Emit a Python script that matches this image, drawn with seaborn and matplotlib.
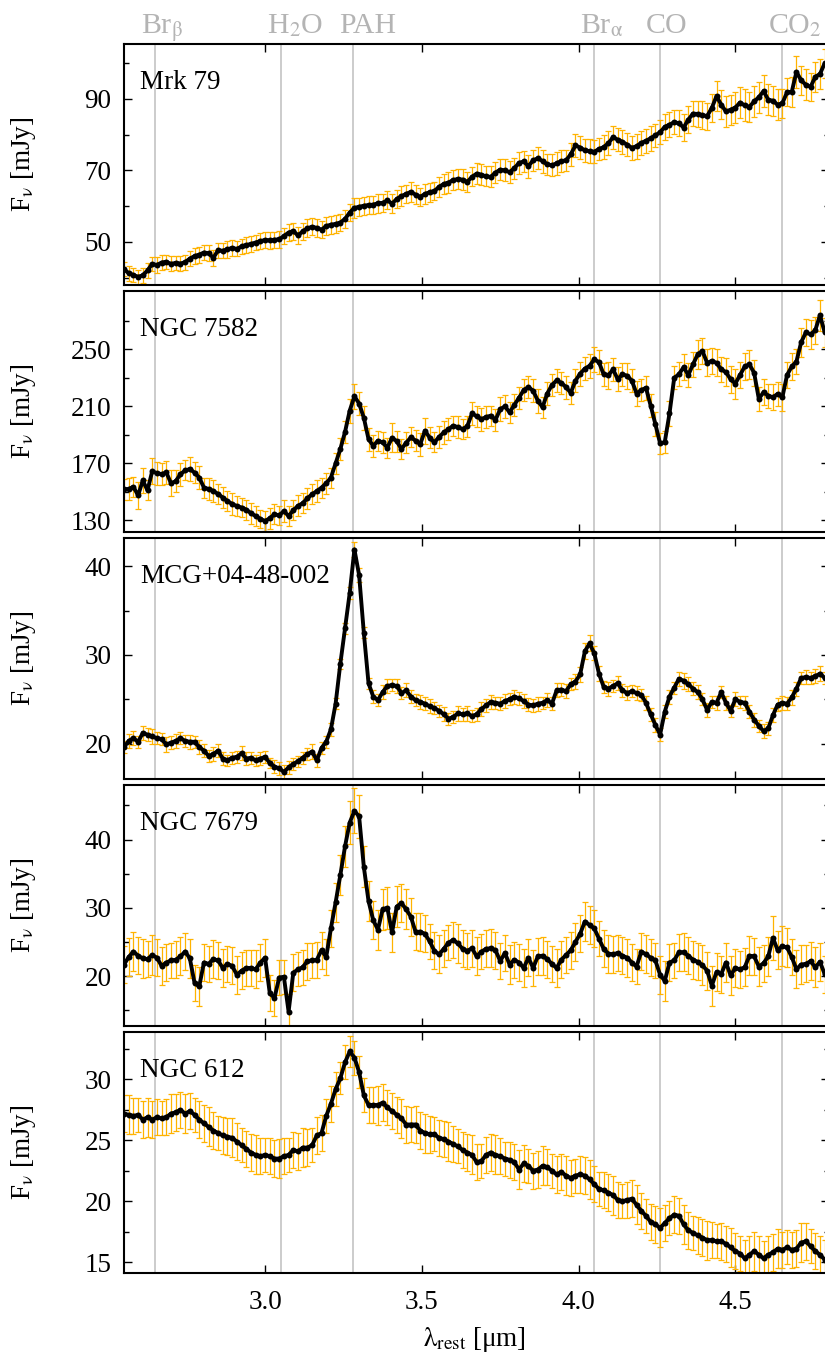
import numpy as np
import pandas as pd
import matplotlib
matplotlib.use("Agg")
import matplotlib.pyplot as plt
from matplotlib.ticker import FixedLocator, FuncFormatter
import seaborn as sns

# ---------------- data ----------------
# common rest-frame wavelength sampling (µm)
wave_start, wave_step, n_wave = 2.55, 0.015, 150
wavelength = np.round(wave_start + wave_step * np.arange(n_wave), 4)

galaxies = ["Mrk 79", "NGC 7582", "MCG+04-48-002", "NGC 7679", "NGC 612"]

flux_mrk79 = [
    42.3, 41.2, 40.7, 40.2, 40.6, 42.0, 43.8, 43.5, 44.2, 44.4,
    43.8, 44.1, 43.9, 44.3, 45.3, 46.0, 46.4, 47.0, 46.8, 45.5,
    47.6, 47.5, 47.9, 48.3, 48.0, 48.7, 49.1, 49.4, 49.8, 50.2,
    50.5, 50.4, 50.6, 50.7, 51.6, 52.6, 53.0, 51.8, 52.9, 53.8,
    54.2, 53.9, 53.4, 54.4, 54.8, 55.0, 55.4, 56.4, 58.2, 59.5,
    59.8, 60.1, 60.3, 60.4, 60.8, 60.9, 61.6, 60.7, 62.0, 62.8,
    63.4, 64.0, 63.2, 62.6, 63.4, 63.9, 64.2, 65.4, 66.2, 66.6,
    67.3, 67.6, 67.4, 66.8, 68.2, 69.1, 68.8, 68.3, 68.2, 69.4,
    70.2, 70.0, 69.5, 70.6, 72.1, 72.5, 71.2, 72.8, 73.4, 72.6,
    71.7, 71.4, 72.0, 72.6, 72.8, 74.5, 77.0, 76.4, 75.6, 75.4,
    75.2, 76.0, 76.5, 77.6, 79.3, 78.6, 78.0, 77.2, 76.3, 76.8,
    77.7, 78.3, 79.0, 79.8, 80.7, 82.2, 82.8, 83.5, 83.2, 82.0,
    84.2, 85.9, 85.8, 85.5, 85.2, 87.5, 90.8, 88.4, 86.5, 87.0,
    87.6, 89.0, 88.2, 87.8, 89.3, 90.5, 92.2, 89.8, 89.5, 88.4,
    88.8, 91.9, 92.0, 97.6, 95.2, 94.0, 93.4, 96.2, 97.0, 100.0,
]
err_mrk79 = [
    2.0, 2.1, 1.9, 2.0, 2.2, 2.1, 2.0, 2.2, 2.1, 2.0, 2.1, 2.0, 2.2, 2.1, 2.0,
    2.3, 2.2, 2.1, 2.2, 2.3, 2.2, 2.1, 2.3, 2.2, 2.1, 2.2, 2.3, 2.2, 2.1, 2.3,
    2.2, 2.3, 2.2, 2.4, 2.3, 2.5, 2.4, 2.3, 2.4, 2.5, 2.4, 2.5, 2.4, 2.6, 2.5,
    2.4, 2.5, 2.6, 2.5, 2.7, 2.6, 2.5, 2.6, 2.5, 2.7, 2.6, 2.5, 2.7, 2.6, 2.7,
    2.6, 2.8, 2.7, 2.6, 2.8, 2.7, 2.6, 2.8, 2.7, 2.9, 2.8, 2.7, 2.9, 2.8, 2.7,
    2.9, 3.0, 2.8, 2.9, 3.0, 2.9, 3.1, 3.0, 2.9, 3.1, 3.0, 3.2, 3.0, 3.1, 3.2,
    3.0, 3.1, 3.2, 3.1, 3.0, 3.2, 3.3, 3.1, 3.2, 3.3, 3.2, 3.1, 3.3, 3.4, 3.2,
    3.3, 3.4, 3.2, 3.3, 3.5, 3.3, 3.4, 3.5, 3.3, 3.4, 3.6, 3.5, 3.4, 3.6, 3.7,
    3.8, 3.6, 3.7, 3.9, 3.8, 4.0, 4.2, 4.1, 4.3, 4.2, 4.4, 4.3, 4.5, 4.2, 4.4,
    4.3, 4.5, 4.4, 4.2, 4.3, 4.1, 4.0, 4.2, 4.4, 4.1, 4.3, 4.0, 4.2, 4.1, 4.0,
]

flux_ngc7582 = [
    151.8, 152.0, 153.5, 147.5, 158.0, 151.0, 164.5, 163.0, 162.5, 163.6,
    156.0, 157.5, 162.4, 165.0, 166.0, 163.5, 160.0, 153.0, 152.0, 150.6,
    148.5, 146.0, 143.5, 141.5, 140.0, 139.0, 137.5, 135.0, 133.0, 131.0,
    129.5, 131.5, 134.2, 133.5, 136.5, 133.0, 137.0, 140.2, 142.0, 145.5,
    148.3, 150.5, 153.0, 156.0, 160.0, 170.0, 180.0, 192.0, 207.0, 217.0,
    212.0, 202.0, 187.0, 182.3, 185.9, 184.7, 181.0, 188.0, 185.5, 180.0,
    184.5, 188.2, 186.0, 183.5, 192.9, 188.0, 184.7, 188.5, 191.7, 194.0,
    196.4, 195.5, 194.0, 196.0, 205.0, 203.0, 201.0, 202.5, 203.5, 200.5,
    208.0, 210.0, 205.8, 211.0, 216.0, 221.5, 223.5, 221.0, 214.0, 209.4,
    219.0, 225.0, 228.2, 226.5, 223.5, 219.5, 228.0, 233.0, 236.5, 238.5,
    243.0, 241.0, 232.5, 231.7, 236.0, 229.0, 232.5, 231.5, 228.0, 219.0,
    221.5, 223.0, 210.5, 197.5, 184.0, 185.0, 205.0, 230.0, 232.5, 237.5,
    232.0, 239.5, 246.5, 249.0, 240.5, 242.0, 240.5, 236.0, 234.0, 229.0,
    226.0, 232.0, 238.0, 239.5, 233.5, 215.2, 220.0, 217.5, 216.4, 218.8,
    216.4, 232.0, 238.0, 241.5, 255.0, 262.0, 260.5, 263.4, 274.0, 262.0,
]
err_ngc7582 = [
    7.5, 8.0, 7.0, 9.5, 8.5, 7.0, 9.0, 8.0, 7.5, 8.0, 9.0, 7.5, 8.0, 7.0, 8.5,
    7.5, 8.0, 7.0, 7.5, 8.0, 7.0, 7.5, 7.0, 7.5, 7.0, 6.5, 7.0, 7.5, 7.0, 6.5,
    7.0, 7.5, 7.0, 6.5, 7.5, 7.0, 7.0, 7.5, 7.0, 7.5, 7.0, 7.5, 7.0, 7.5, 7.0,
    7.5, 7.5, 8.0, 8.5, 9.0, 8.0, 8.5, 8.0, 7.5, 7.0, 7.5, 7.0, 10.0, 7.5, 7.0,
    7.5, 7.0, 7.5, 8.0, 9.0, 7.5, 7.0, 7.5, 8.0, 7.5, 7.0, 7.5, 7.0, 7.5, 8.0,
    7.5, 8.0, 7.5, 7.0, 8.0, 8.5, 8.0, 7.5, 8.0, 7.5, 8.0, 7.5, 8.0, 8.5, 7.5,
    8.0, 7.5, 8.0, 7.5, 8.0, 7.5, 8.0, 8.5, 8.0, 8.5, 9.0, 8.5, 8.0, 9.5, 8.0,
    8.5, 8.0, 9.0, 8.0, 8.5, 8.0, 8.5, 8.0, 8.5, 7.5, 8.0, 9.0, 8.0, 8.5, 9.0,
    8.5, 9.0, 10.0, 9.0, 9.5, 9.0, 9.5, 9.0, 10.0, 9.5, 10.5, 9.0, 9.5, 10.0, 9.0,
    8.5, 9.0, 8.5, 9.0, 8.5, 9.5, 9.0, 9.5, 9.0, 10.0, 9.5, 10.0, 9.5, 11.0, 10.0,
]

flux_mcg = [
    19.6, 20.3, 20.6, 20.2, 21.2, 21.0, 20.8, 20.6, 20.5, 19.9,
    20.1, 20.3, 20.6, 20.3, 20.2, 20.2, 19.6, 19.2, 18.6, 18.8,
    19.2, 18.3, 18.1, 18.4, 18.5, 18.9, 18.3, 18.4, 18.1, 18.3,
    18.5, 17.8, 17.4, 17.2, 16.8, 17.3, 17.7, 18.0, 18.4, 18.8,
    19.1, 18.1, 19.5, 20.2, 21.6, 24.5, 29.0, 33.0, 37.0, 41.9,
    39.0, 32.5, 26.8, 25.3, 24.9, 25.8, 26.5, 26.6, 26.5, 25.7,
    26.0, 25.3, 24.9, 24.7, 24.5, 24.2, 24.0, 23.7, 23.3, 22.8,
    23.0, 23.4, 23.3, 23.4, 23.1, 23.3, 23.9, 24.3, 24.7, 24.6,
    24.5, 24.8, 25.0, 25.3, 25.1, 24.8, 24.4, 24.3, 24.5, 24.6,
    24.9, 24.5, 26.0, 26.1, 25.9, 26.7, 27.0, 27.8, 30.4, 31.3,
    30.2, 27.9, 26.4, 26.2, 26.5, 26.8, 26.0, 25.7, 25.9, 25.7,
    25.5, 24.6, 23.3, 22.1, 21.0, 23.6, 25.3, 26.3, 27.3, 27.1,
    26.7, 26.2, 25.8, 25.0, 23.8, 24.7, 24.6, 25.8, 24.6, 23.7,
    25.0, 24.7, 24.6, 23.6, 22.7, 22.0, 21.4, 21.7, 23.2, 24.4,
    24.6, 24.5, 25.2, 26.2, 27.4, 27.5, 27.4, 27.6, 27.9, 27.4,
]
err_mcg = [
    0.7, 0.8, 0.8, 0.7, 0.8, 0.7, 0.8, 0.7, 0.7, 0.8, 0.7, 0.8, 0.7, 0.7, 0.8,
    0.7, 0.8, 0.7, 0.7, 0.8, 0.7, 0.7, 0.6, 0.7, 0.7, 0.8, 0.7, 0.7, 0.6, 0.7,
    0.7, 0.6, 0.7, 0.7, 0.8, 0.7, 0.7, 0.6, 0.7, 0.7, 0.8, 0.7, 0.7, 0.7, 0.7,
    0.6, 0.6, 0.6, 0.7, 0.9, 0.8, 0.6, 0.6, 0.7, 0.7, 0.8, 0.8, 0.7, 0.8, 0.7,
    0.8, 0.7, 0.7, 0.8, 0.7, 0.8, 0.7, 0.7, 0.8, 0.7, 0.7, 0.8, 0.7, 0.8, 0.7,
    0.7, 0.8, 0.7, 0.8, 0.7, 0.7, 0.8, 0.7, 0.8, 0.7, 0.8, 0.7, 0.7, 0.8, 0.7,
    0.8, 0.7, 0.8, 0.7, 0.8, 0.7, 0.8, 0.8, 0.9, 0.9, 0.8, 0.8, 0.7, 0.8, 0.7,
    0.8, 0.7, 0.8, 0.7, 0.8, 0.7, 0.8, 0.7, 0.8, 0.7, 0.7, 0.8, 0.7, 0.8, 0.9,
    0.8, 0.7, 0.8, 0.7, 0.8, 0.7, 0.8, 0.7, 0.8, 0.7, 0.8, 0.7, 0.8, 0.7, 0.8,
    0.7, 0.8, 0.7, 0.8, 0.7, 0.8, 0.7, 0.8, 0.8, 0.7, 0.8, 0.7, 0.8, 0.8, 0.7,
]

flux_ngc7679 = [
    21.7, 22.8, 23.6, 23.0, 22.6, 22.5, 23.1, 22.7, 21.5, 22.0,
    22.3, 22.4, 22.9, 23.6, 22.6, 19.0, 18.5, 22.0, 21.8, 22.5,
    22.3, 21.2, 21.8, 21.5, 20.2, 20.8, 21.2, 21.2, 21.0, 22.0,
    22.7, 17.5, 16.8, 19.8, 19.9, 14.8, 20.5, 21.0, 21.3, 22.2,
    22.3, 22.4, 23.8, 22.8, 27.0, 30.8, 34.8, 39.0, 42.5, 44.2,
    43.4, 36.0, 31.0, 28.2, 26.8, 29.8, 30.0, 26.4, 30.2, 30.7,
    29.8, 28.7, 26.5, 26.5, 26.2, 25.1, 23.7, 23.2, 24.0, 24.9,
    25.3, 24.8, 24.0, 23.7, 24.1, 22.9, 23.6, 24.0, 24.1, 23.8,
    22.2, 23.4, 21.7, 22.4, 22.0, 21.2, 22.7, 21.2, 22.9, 23.0,
    22.5, 21.8, 21.2, 22.4, 23.1, 23.8, 25.0, 26.2, 28.0, 27.5,
    27.0, 25.5, 24.0, 23.3, 23.2, 23.4, 23.0, 22.7, 22.0, 21.4,
    23.6, 23.2, 22.7, 22.3, 20.2, 19.3, 22.0, 22.3, 23.5, 23.5,
    23.0, 22.4, 22.1, 21.6, 20.8, 18.6, 20.6, 20.3, 22.0, 20.1,
    21.2, 21.0, 21.3, 23.0, 22.9, 21.4, 21.9, 22.9, 25.6, 23.8,
    24.4, 24.2, 22.8, 21.0, 21.7, 21.8, 22.2, 21.3, 22.1, 20.3,
]
err_ngc7679 = [
    2.7, 2.8, 2.9, 2.7, 2.8, 2.6, 2.9, 2.7, 2.8, 2.7, 2.6, 2.7, 2.8, 2.7, 2.9,
    2.7, 2.8, 2.7, 2.6, 2.8, 2.7, 2.8, 2.6, 2.7, 2.8, 2.7, 2.6, 2.7, 2.8, 2.7,
    2.8, 2.6, 2.7, 2.6, 2.5, 2.6, 2.7, 2.5, 2.6, 2.7, 2.5, 2.6, 2.7, 2.6, 2.7,
    2.8, 2.9, 3.0, 3.2, 3.3, 3.1, 3.0, 2.9, 2.8, 2.9, 3.0, 3.1, 2.9, 3.0, 2.8,
    2.9, 2.8, 2.7, 2.8, 2.7, 2.6, 2.7, 2.8, 2.7, 2.6, 2.7, 2.8, 2.7, 2.6, 2.7,
    2.8, 2.6, 2.7, 2.8, 2.7, 2.6, 2.7, 2.8, 2.6, 2.7, 2.8, 2.7, 2.6, 2.7, 2.8,
    2.7, 2.6, 2.8, 2.7, 2.6, 2.7, 2.8, 2.7, 2.9, 2.8, 2.7, 2.6, 2.7, 2.8, 2.7,
    2.6, 2.7, 2.8, 2.7, 2.6, 2.7, 2.8, 2.7, 2.6, 2.8, 2.9, 2.7, 2.6, 2.7, 2.8,
    2.7, 2.8, 2.7, 2.9, 2.8, 2.9, 2.8, 2.7, 2.8, 2.9, 2.8, 2.7, 2.8, 2.9, 2.7,
    2.8, 2.7, 2.9, 3.2, 2.8, 2.9, 2.8, 2.7, 2.8, 2.9, 2.7, 2.8, 2.9, 2.8, 2.7,
]

flux_ngc612 = [
    27.2, 27.1, 27.0, 27.1, 26.7, 26.9, 26.7, 26.9, 26.8, 26.9,
    27.2, 27.3, 27.5, 27.2, 27.4, 27.1, 26.7, 26.4, 26.1, 25.8,
    25.6, 25.4, 25.3, 25.2, 24.9, 24.6, 24.3, 24.0, 23.8, 23.7,
    23.8, 23.7, 23.5, 23.5, 23.7, 23.8, 24.2, 24.1, 24.4, 24.4,
    24.6, 25.4, 25.6, 27.0, 28.0, 29.2, 30.1, 31.4, 32.3, 31.8,
    30.6, 28.7, 27.9, 27.9, 27.9, 28.1, 27.7, 27.4, 27.1, 26.8,
    26.3, 26.3, 26.3, 25.8, 25.6, 25.5, 25.5, 25.2, 25.1, 24.9,
    24.7, 24.5, 24.2, 24.0, 23.8, 23.2, 23.3, 23.8, 24.0, 23.8,
    23.7, 23.5, 23.4, 23.2, 22.6, 23.1, 22.9, 22.5, 22.6, 22.9,
    22.8, 22.5, 22.2, 22.4, 22.1, 21.9, 22.1, 22.2, 22.1, 21.8,
    21.4, 21.0, 20.9, 20.7, 20.5, 20.1, 20.0, 20.1, 20.2, 19.7,
    19.2, 18.8, 18.3, 18.1, 17.8, 18.2, 18.6, 18.9, 18.8, 18.1,
    17.6, 17.4, 17.2, 17.0, 16.8, 16.8, 16.7, 16.7, 16.5, 16.2,
    15.9, 15.7, 15.3, 15.6, 15.9, 15.6, 15.3, 15.6, 15.8, 16.1,
    16.0, 16.2, 16.0, 16.1, 16.6, 16.7, 16.3, 15.9, 15.6, 15.2,
]
err_ngc612 = [
    1.5, 1.6, 1.5, 1.4, 1.5, 1.6, 1.5, 1.5, 1.4, 1.5, 1.6, 1.5, 1.5, 1.6, 1.5,
    1.4, 1.5, 1.5, 1.6, 1.5, 1.4, 1.5, 1.5, 1.6, 1.5, 1.4, 1.5, 1.5, 1.6, 1.5,
    1.4, 1.5, 1.5, 1.6, 1.5, 1.4, 1.5, 1.5, 1.6, 1.5, 1.4, 1.5, 1.5, 1.4, 1.5,
    1.4, 1.3, 1.4, 1.3, 1.4, 1.3, 1.4, 1.5, 1.5, 1.6, 1.5, 1.4, 1.5, 1.5, 1.6,
    1.5, 1.4, 1.5, 1.5, 1.6, 1.5, 1.4, 1.5, 1.5, 1.6, 1.5, 1.4, 1.5, 1.5, 1.6,
    1.5, 1.4, 1.5, 1.5, 1.6, 1.5, 1.4, 1.5, 1.5, 1.6, 1.5, 1.4, 1.5, 1.5, 1.6,
    1.5, 1.4, 1.5, 1.5, 1.6, 1.5, 1.4, 1.5, 1.5, 1.6, 1.5, 1.4, 1.5, 1.5, 1.6,
    1.5, 1.4, 1.5, 1.5, 1.6, 1.5, 1.4, 1.5, 1.5, 1.6, 1.5, 1.4, 1.5, 1.5, 1.6,
    1.5, 1.4, 1.5, 1.5, 1.6, 1.5, 1.4, 1.5, 1.5, 1.6, 1.5, 1.4, 1.5, 1.5, 1.6,
    1.5, 1.4, 1.5, 1.5, 1.6, 1.5, 1.4, 1.5, 1.5, 1.6, 1.5, 1.4, 1.5, 1.5, 1.6,
]

fluxes = [flux_mrk79, flux_ngc7582, flux_mcg, flux_ngc7679, flux_ngc612]
errors = [err_mrk79, err_ngc7582, err_mcg, err_ngc7679, err_ngc612]

# spectral features marked in every panel
feature_names = [r"Br$_\mathrm{\beta}$", r"H$_2$O", "PAH", r"Br$_\mathrm{\alpha}$", "CO", r"CO$_2$"]
feature_waves = [2.65, 3.05, 3.28, 4.05, 4.26, 4.65]

# y ranges and ticks per panel
y_limits = [(37.9, 105.4), (121.8, 291.0), (16.0, 43.2), (12.7, 48.0), (14.1, 33.9)]
y_major_ticks = [[50, 70, 90], [130, 170, 210, 250], [20, 30, 40], [20, 30, 40], [15, 20, 25, 30]]
y_minor_ticks = [[40, 60, 80, 100], [150, 190, 230, 270], [25, 35], [15, 25, 35, 45],
                 [17.5, 22.5, 27.5, 32.5]]
x_ticks = [3.0, 3.5, 4.0, 4.5]

# ---------------- style ----------------
sns.set_theme(style="ticks")
plt.rcParams["font.family"] = ["Liberation Serif", "DejaVu Serif"]
plt.rcParams["mathtext.fontset"] = "stix"
for key in ("text.color", "axes.labelcolor", "xtick.color", "ytick.color", "axes.edgecolor"):
    plt.rcParams[key] = "black"

FS = 19.5
FS_FEATURE = 21.5
LINE_GRAY = "#c8c8c8"
LABEL_GRAY = "#b4b4b4"
ERR_COLOR = "#FFB300"

W, H = 825, 1361
fig = plt.figure(figsize=(W / 100, H / 100), dpi=100)

left_px, px_per_um = 124, 313.5
xlim = (2.55, 4.80)
width_px = (xlim[1] - xlim[0]) * px_per_um
panel_tops = [44, 291, 538, 785, 1032]
panel_h = 241

axes = []
for k, name in enumerate(galaxies):
    top = panel_tops[k]
    ax = fig.add_axes([left_px / W, 1 - (top + panel_h) / H, width_px / W, panel_h / H])
    axes.append(ax)

    df = pd.DataFrame({"wave": wavelength, "flux": fluxes[k], "err": errors[k]})

    for lw_ in feature_waves:
        ax.axvline(lw_, color=LINE_GRAY, lw=1.3, zorder=1)

    ax.errorbar(df["wave"], df["flux"], yerr=df["err"], fmt="none",
                ecolor=ERR_COLOR, elinewidth=0.9, capsize=2.2, capthick=0.9, zorder=2)
    sns.lineplot(data=df, x="wave", y="flux", ax=ax, color="black", lw=2.8,
                 marker="o", markersize=4.3, markeredgewidth=0, zorder=3)

    ax.set_xlim(*xlim)
    ax.set_ylim(*y_limits[k])
    ax.xaxis.set_major_locator(FixedLocator(x_ticks))
    ax.yaxis.set_major_locator(FixedLocator(y_major_ticks[k]))
    ax.yaxis.set_minor_locator(FixedLocator(y_minor_ticks[k]))
    ax.yaxis.set_major_formatter(FuncFormatter(lambda v, p: f"{v:g}"))
    ax.tick_params(which="both", direction="in", top=True, right=True,
                   width=1.0, labelsize=FS, color="black", labelcolor="black")
    ax.tick_params(which="major", length=6)
    ax.tick_params(which="minor", length=3.5)
    ax.tick_params(axis="y", pad=9)
    ax.tick_params(axis="x", pad=12)
    if k < len(galaxies) - 1:
        ax.tick_params(axis="x", labelbottom=False)
    else:
        ax.xaxis.set_major_formatter(FuncFormatter(lambda v, p: f"{v:.1f}"))

    ax.set_xlabel("")
    ax.set_ylabel(r"F$_\mathrm{\nu}$ [mJy]", fontsize=FS)
    ax.yaxis.set_label_coords(-0.122, 0.5)

    ax.text(0.0227, 0.84, name, transform=ax.transAxes, fontsize=FS,
            ha="left", va="center", zorder=5)

    for sp in ax.spines.values():
        sp.set_linewidth(1.5)
        sp.set_color("black")

# feature names above the top panel
top_ax = axes[0]
for nm, wv in zip(feature_names, feature_waves):
    top_ax.text(wv - 0.045, 1.046, nm, transform=top_ax.get_xaxis_transform(),
                fontsize=FS_FEATURE, color=LABEL_GRAY, ha="left", va="baseline", clip_on=False)

fig.text((left_px + 350.5) / W, 1 - 1340 / H, r"$\mathrm{\lambda}_\mathrm{rest}$ [μm]",
         fontsize=FS, ha="center", va="center")

fig.savefig("out.png", dpi=100)
